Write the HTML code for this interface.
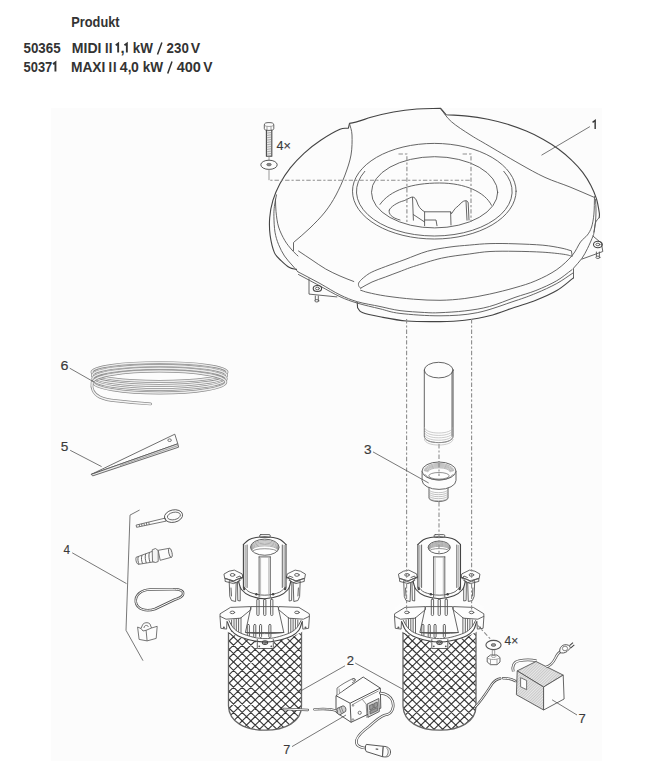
<!DOCTYPE html>
<html><head><meta charset="utf-8">
<style>
html,body{margin:0;padding:0;background:#fff;}
body{width:646px;height:772px;position:relative;overflow:hidden;}
svg{position:absolute;left:0;top:0;}
.tx{font-family:"Liberation Sans",sans-serif;font-size:13.5px;fill:#333;stroke:#333;stroke-width:0.35px;}
.lb{font-family:"Liberation Sans",sans-serif;font-size:11.5px;fill:#3a3a3a;}
.k{fill:none;stroke:#555;stroke-width:0.9;stroke-linecap:round;stroke-linejoin:round;}
.kd{fill:none;stroke:#444;stroke-width:1.1;stroke-linecap:round;stroke-linejoin:round;}
.dd{fill:none;stroke:#8d8d8d;stroke-width:1.1;stroke-dasharray:4.4 2 2.2 2;}
.dda{fill:none;stroke:#8d8d8d;stroke-width:1.1;stroke-dasharray:4.4 2 2.2 2;}
.ld{fill:none;stroke:#555;stroke-width:0.8;}
</style></head><body>
<svg width="646" height="772" viewBox="0 0 646 772">
<rect x="51" y="108" width="551" height="653" fill="#fcfcfc"/>
<text x="71.31" y="26.9" textLength="48.30" lengthAdjust="spacingAndGlyphs" style="font-family:&quot;Liberation Sans&quot;,sans-serif;font-size:13.8px;font-weight:bold;fill:#333;">Produkt</text>
<text x="23.50" y="52.6" textLength="37.11" lengthAdjust="spacingAndGlyphs" style="font-family:&quot;Liberation Sans&quot;,sans-serif;font-size:13.8px;font-weight:bold;fill:#333;">50365</text>
<text x="23.51" y="71.5" textLength="28.77" lengthAdjust="spacingAndGlyphs" style="font-family:&quot;Liberation Sans&quot;,sans-serif;font-size:13.8px;font-weight:bold;fill:#333;">5037</text>
<path d="M55.45 71.50 L55.45 62.40 L53.05 64.14" fill="none" stroke="#333" stroke-width="1.9" stroke-linejoin="miter" stroke-linecap="butt"/>
<path d="M118.15 52.60 L118.15 43.50 L115.75 45.24" fill="none" stroke="#333" stroke-width="1.9" stroke-linejoin="miter" stroke-linecap="butt"/>
<path d="M126.85 52.60 L126.85 43.50 L124.45 45.24" fill="none" stroke="#333" stroke-width="1.9" stroke-linejoin="miter" stroke-linecap="butt"/>
<text x="71.82" y="52.6" textLength="29.68" lengthAdjust="spacingAndGlyphs" style="font-family:&quot;Liberation Sans&quot;,sans-serif;font-size:13.8px;font-weight:bold;fill:#333;">MIDI</text>
<text x="104.90" y="52.6" textLength="3.57" lengthAdjust="spacingAndGlyphs" style="font-family:&quot;Liberation Sans&quot;,sans-serif;font-size:13.8px;font-weight:bold;fill:#333;">I</text>
<text x="108.85" y="52.6" textLength="3.77" lengthAdjust="spacingAndGlyphs" style="font-family:&quot;Liberation Sans&quot;,sans-serif;font-size:13.8px;font-weight:bold;fill:#333;">I</text>
<text x="120.55" y="52.6" textLength="4.17" lengthAdjust="spacingAndGlyphs" style="font-family:&quot;Liberation Sans&quot;,sans-serif;font-size:13.8px;font-weight:bold;fill:#333;">,</text>
<text x="132.76" y="52.6" textLength="20.14" lengthAdjust="spacingAndGlyphs" style="font-family:&quot;Liberation Sans&quot;,sans-serif;font-size:13.8px;font-weight:bold;fill:#333;">kW</text>
<text x="166.60" y="52.6" textLength="22.21" lengthAdjust="spacingAndGlyphs" style="font-family:&quot;Liberation Sans&quot;,sans-serif;font-size:13.8px;font-weight:bold;fill:#333;">230</text>
<text x="190.86" y="52.6" textLength="9.44" lengthAdjust="spacingAndGlyphs" style="font-family:&quot;Liberation Sans&quot;,sans-serif;font-size:13.8px;font-weight:bold;fill:#333;">V</text>
<text x="70.94" y="71.5" textLength="34.43" lengthAdjust="spacingAndGlyphs" style="font-family:&quot;Liberation Sans&quot;,sans-serif;font-size:13.8px;font-weight:bold;fill:#333;">MAXI</text>
<text x="108.60" y="71.5" textLength="3.57" lengthAdjust="spacingAndGlyphs" style="font-family:&quot;Liberation Sans&quot;,sans-serif;font-size:13.8px;font-weight:bold;fill:#333;">I</text>
<text x="113.00" y="71.5" textLength="3.57" lengthAdjust="spacingAndGlyphs" style="font-family:&quot;Liberation Sans&quot;,sans-serif;font-size:13.8px;font-weight:bold;fill:#333;">I</text>
<text x="119.72" y="71.5" textLength="7.87" lengthAdjust="spacingAndGlyphs" style="font-family:&quot;Liberation Sans&quot;,sans-serif;font-size:13.8px;font-weight:bold;fill:#333;">4</text>
<text x="127.75" y="71.5" textLength="3.77" lengthAdjust="spacingAndGlyphs" style="font-family:&quot;Liberation Sans&quot;,sans-serif;font-size:13.8px;font-weight:bold;fill:#333;">,</text>
<text x="131.04" y="71.5" textLength="7.81" lengthAdjust="spacingAndGlyphs" style="font-family:&quot;Liberation Sans&quot;,sans-serif;font-size:13.8px;font-weight:bold;fill:#333;">0</text>
<text x="142.65" y="71.5" textLength="20.35" lengthAdjust="spacingAndGlyphs" style="font-family:&quot;Liberation Sans&quot;,sans-serif;font-size:13.8px;font-weight:bold;fill:#333;">kW</text>
<text x="176.71" y="71.5" textLength="24.25" lengthAdjust="spacingAndGlyphs" style="font-family:&quot;Liberation Sans&quot;,sans-serif;font-size:13.8px;font-weight:bold;fill:#333;">400</text>
<text x="203.26" y="71.5" textLength="9.24" lengthAdjust="spacingAndGlyphs" style="font-family:&quot;Liberation Sans&quot;,sans-serif;font-size:13.8px;font-weight:bold;fill:#333;">V</text>
<path d="M157.5 54.6 L 161.9 42.5 M 167.7 73.5 L 172 61.4" stroke="#333" stroke-width="1.5" fill="none"/>

<defs>
<clipPath id="clipF"><path d="M228.5 620 L 228.5 706 C 229 722, 245 730.2, 265 730.2 C 285 730.2, 301.5 722, 301.5 706 L 301.5 620 Z"/></clipPath>
</defs><!-- LID -->
<path class="kd" d="M296.5 269.4C294.2 268.8 292.1 269.1 289.5 267.6C286.9 266.1 283.6 263.1 281.1 260.6C278.6 258.1 276.1 256.6 274.3 252.4C272.5 248.1 270.9 240.9 270.1 235.2C269.4 229.4 269.2 223.5 269.7 217.7C270.1 211.9 271.2 206.1 272.9 200.4C274.6 194.8 277.0 189.1 279.9 183.7C282.8 178.2 286.3 172.9 290.3 167.8C294.4 162.8 299.0 157.9 304.0 153.3C309.1 148.7 314.7 144.3 320.7 140.3C326.7 136.3 335.4 131.3 340.0 129.3C344.6 127.3 345.6 128.6 348.4 128.2 L349.5 123.4 C356.7 122.4 363.6 119.5 370.9 117.3C378.2 115.2 385.8 113.4 393.5 112.0C401.1 110.6 409.0 109.6 416.9 109.0C424.8 108.4 432.7 108.6 440.7 108.4 L446 114.7 C453.1 115.2 460.2 115.3 467.2 116.1C474.2 116.8 481.1 117.9 487.9 119.3C494.6 120.7 501.3 122.4 507.7 124.3C514.1 126.3 520.4 128.6 526.3 131.1C532.3 133.6 538.0 136.4 543.4 139.4C548.8 142.4 554.0 145.7 558.7 149.2C563.4 152.7 567.9 156.4 571.8 160.3C575.8 164.1 579.5 168.2 582.7 172.4C585.8 176.6 588.6 180.9 590.9 185.4C593.2 189.8 595.1 194.4 596.5 198.9C597.9 203.5 598.8 209.8 599.3 212.9C599.7 216.0 599.2 216.0 599.2 217.6" />
<path class="k" d="M599.2 217.6C598.2 218.8 597.0 219.9 596.3 221.1C595.6 222.3 595.5 222.8 595.1 224.6C594.7 226.4 594.4 230.1 594.0 232.0C593.6 233.9 594.1 233.3 593.0 236.1C591.9 238.9 589.2 245.0 587.4 248.7C585.5 252.4 584.2 255.1 581.9 258.4C579.6 261.6 576.3 264.9 573.5 268.2 L573.5 277.9" />
<path class="kd" d="M573.5 277.9C567.9 282.1 563.1 286.8 556.8 290.5C550.5 294.2 542.9 297.4 535.9 300.2C528.9 303.0 522.7 304.6 515.0 307.2C507.3 309.8 497.9 313.6 489.5 315.8C481.1 318.0 473.1 319.2 464.8 320.2C456.6 321.2 449.6 321.5 440.0 321.6C430.4 321.7 416.9 321.8 406.9 321.0C396.9 320.2 387.4 318.2 380.0 316.8C372.6 315.4 366.0 314.0 362.3 312.5C358.6 311.0 359.2 309.4 357.6 307.9 L357.2 302.3" />
<path class="k" d="M297.9 271.8C305.3 275.7 313.0 279.6 320.0 283.5C327.0 287.4 333.7 291.8 340.0 294.9C346.3 297.9 350.9 299.9 357.6 301.8C364.3 303.7 372.9 305.0 380.0 306.5C387.1 308.0 392.6 309.6 400.0 310.6C407.4 311.6 417.9 312.1 424.6 312.5C431.3 312.9 433.3 313.0 440.0 312.7C446.7 312.4 456.6 311.9 464.8 310.9C473.1 309.9 481.1 308.8 489.5 306.5C497.9 304.2 507.3 300.1 515.0 297.4C522.7 294.7 528.9 293.3 535.9 290.5C542.9 287.7 550.8 284.2 556.8 280.7C562.8 277.2 567.0 273.3 572.1 269.6" />
<path class="k" d="M298.5 274.5C305.7 278.3 313.1 282.3 320.0 286.0C326.9 289.7 333.7 293.8 340.0 296.7C346.3 299.6 350.9 301.2 357.6 303.2C364.3 305.2 372.9 307.1 380.0 308.8C387.1 310.5 390.0 312.2 400.0 313.4C410.0 314.6 427.1 315.9 440.0 315.8C452.9 315.7 464.7 315.2 477.2 312.7C489.7 310.2 505.2 304.1 515.0 300.9C524.8 297.7 528.9 296.2 535.9 293.3C542.9 290.4 550.6 286.9 556.8 283.5C562.9 280.1 567.5 276.6 572.8 273.1" />
<path class="k" d="M276.5 194.9C275.8 198.7 274.8 202.7 274.4 206.3C274.0 209.9 273.8 212.3 273.9 216.6C274.0 220.9 274.2 227.5 275.0 232.2C275.8 236.9 277.0 240.6 278.6 244.6C280.2 248.6 282.3 252.6 284.5 256.0C286.7 259.4 289.8 262.4 292.0 265.0C294.2 267.6 295.9 269.5 297.9 271.8" />
<path class="k" d="M275.5 199.0C275.7 203.2 275.5 206.8 276.0 211.5C276.5 216.2 277.1 222.2 278.6 227.0C280.1 231.8 282.6 236.7 284.8 240.5C287.0 244.3 289.8 247.4 292.0 250.0C294.2 252.6 296.0 254.0 298.0 256.0" />
<path class="k" d="M349.5 123.4C350.3 127.3 351.8 129.7 352.0 135.0C352.2 140.3 352.2 148.3 351.0 155.0C349.8 161.7 347.5 168.3 345.0 175.0C342.5 181.7 339.3 188.8 336.0 195.0C332.7 201.2 329.3 206.5 325.0 212.0C320.7 217.5 315.2 222.9 310.0 228.0C304.8 233.1 299.0 237.7 293.5 242.5 L293.5 250.5" />
<path class="k" d="M298.5 251.0C303.0 254.0 307.5 257.0 312.0 260.0C316.5 263.0 321.0 266.3 325.7 269.0C330.4 271.7 335.3 273.9 340.0 276.0C344.7 278.1 349.2 279.7 353.8 281.5" />
<path class="k" d="M440.5 108.7C444.1 113.0 446.5 117.4 451.4 121.7C456.3 126.0 464.3 131.0 470.0 134.7C475.7 138.4 477.5 139.2 485.7 144.0C493.9 148.8 509.1 157.9 519.0 163.5C528.9 169.1 536.5 173.5 545.0 177.4C553.5 181.3 561.9 183.7 570.0 187.0C578.1 190.3 585.9 193.8 593.9 197.2" />
<path class="k" d="M594.5 196.6C594.3 202.4 594.4 209.0 593.9 214.1C593.4 219.2 592.7 223.5 591.6 227.0C590.5 230.5 589.2 232.5 587.4 235.0C585.5 237.5 583.0 238.6 580.5 242.0C578.0 245.4 576.1 251.0 572.1 255.6C568.1 260.2 562.8 265.4 556.8 269.6C550.8 273.8 542.9 277.7 535.9 280.7C528.9 283.7 522.7 285.5 515.0 287.7C507.3 289.9 497.9 292.3 489.5 294.1C481.1 295.9 473.1 297.5 464.8 298.5C456.6 299.5 448.5 300.2 440.0 300.3C431.5 300.4 422.7 299.9 413.6 299.2C404.6 298.5 393.3 297.1 385.7 296.0C378.1 294.9 372.2 293.5 368.0 292.5C363.8 291.5 363.1 291.0 360.6 290.2" />
<path class="k" d="M595.5 199.5C595.7 203.0 596.0 206.2 596.0 210.0C596.0 213.8 595.8 218.3 595.5 222.0C595.2 225.7 594.5 228.7 594.0 232.0" />
<path class="k" d="M360.6 288.2C359.9 287.3 358.8 286.6 358.6 285.5C358.4 284.4 358.2 283.4 359.3 281.9C360.4 280.4 362.9 278.1 365.0 276.5C367.1 274.9 368.4 273.8 371.8 272.1C375.2 270.4 380.2 268.6 385.7 266.5C391.2 264.4 398.0 262.1 405.0 259.5C412.0 256.9 420.0 253.3 427.5 251.2C435.0 249.1 443.0 248.0 450.0 247.0C457.0 246.0 462.6 245.7 469.3 245.1C476.0 244.5 482.4 243.8 490.0 243.6C497.6 243.4 506.2 243.5 515.0 243.8C523.8 244.1 535.2 244.5 542.9 245.2C550.6 245.9 556.2 247.1 561.0 248.0C565.8 248.9 567.9 249.9 571.4 250.8 L572.1 255.6" />
<path class="k" d="M360.6 288.2C364.4 286.1 367.8 283.9 372.0 282.0C376.2 280.1 381.0 278.6 385.7 276.9C390.4 275.1 395.4 273.2 400.0 271.5C404.6 269.8 406.7 268.7 413.6 266.5C420.5 264.3 432.2 260.3 441.5 258.2C450.8 256.1 461.2 255.1 469.3 254.0C477.4 252.9 482.4 251.9 490.0 251.5C497.6 251.1 506.2 251.2 515.0 251.3C523.8 251.4 534.8 251.7 542.9 252.2C551.0 252.7 558.9 253.6 563.8 254.3C568.7 255.0 569.3 255.6 572.1 256.3" />
<ellipse class="k" cx="434.3" cy="191.2" rx="81.8" ry="47.8"/>
<path class="k" d="M 364.8 171.3 A 78 44.5 0 1 0 503.8 171.3"/>
<ellipse class="k" cx="434.6" cy="192.3" rx="63.1" ry="35.6"/>
<path class="k" d="M380 204.4 C 390 190, 412 183, 439.4 183 C 465 183, 485 192, 491.5 205.3"/>
<path class="k" d="M389.3 210 C 390 207, 398 202, 404.1 200.7 C 408 199, 411 197, 412.5 197 C 414.5 197, 416 199, 417 202 C 418 206, 421 210, 424.6 211.8 L 450.6 211.8 L 451.5 213.7 C 454 210, 456 207, 458 206.2 C 461 203, 463 200.7, 465.5 200.7 C 467 200.7, 468 201.5, 468.2 203 L 469 220"/>
<path class="k" d="M412.5 197.5 L 413.4 220.2 M 413.4 214.6 L 424.6 222 M 424.6 211.8 L 424.6 225.7 M 450.6 212 L 451 225 M 424.6 220 L 436 220 L 437 225.7 M 466 201 L 467 220.2"/>
<path class="k" d="M389.3 210 C 388 214, 392 218, 400 220"/>
<path class="k" d="M309 278.8 L 309 294.1 L 336.9 296.9"/>
<ellipse class="kd" cx="317.4" cy="288.5" rx="4.2" ry="3"/><ellipse class="k" cx="317.4" cy="288.5" rx="2" ry="1.3"/>
<path class="k" d="M315.3 296 L 315.3 300 M 318.3 296 L 318.3 300"/><ellipse class="k" cx="316.8" cy="300.8" rx="2" ry="1.2"/>
<path class="k" d="M593 236.1 L 601.4 243.1 L 602.8 251.5 L 581.9 259.1"/>
<ellipse class="kd" cx="597.9" cy="244.5" rx="4.4" ry="3.2"/><ellipse class="k" cx="597.9" cy="244.5" rx="2" ry="1.3"/>
<path class="k" d="M596.4 252 L 596.4 256 M 599.4 252 L 599.4 256"/><ellipse class="k" cx="597.9" cy="257.3" rx="2" ry="1.2"/>
<!--LABEL1-->
<path class="ld" d="M589.9 126.6 L 541.5 155.2"/>
<path d="M264.3 125 C 264.3 123, 266 122.6, 269 122.6 C 272 122.6, 273.8 123, 273.8 125 L 273.8 128.5 C 273.8 130, 272 130.4, 269 130.4 C 266 130.4, 264.3 130, 264.3 128.5 Z" fill="#fdfdfd" stroke="#555" stroke-width="0.9"/>
<path d="M264.5 125.5 C 266 126.8, 272 126.8, 273.6 125.5 M 267 126.5 L 267 130 M 271 126.5 L 271 130" fill="none" stroke="#666" stroke-width="0.6"/>
<path class="kd" d="M266.4 130.4 L 266.4 156.3 M 271.8 130.4 L 271.8 156.3 M 266.4 156.3 L 271.8 156.3"/>
<path d="M266.6 132.00 L271.6 132.60 M266.6 133.75 L271.6 134.35 M266.6 135.50 L271.6 136.10 M266.6 137.25 L271.6 137.85 M266.6 139.00 L271.6 139.60 M266.6 140.75 L271.6 141.35 M266.6 142.50 L271.6 143.10 M266.6 144.25 L271.6 144.85 M266.6 146.00 L271.6 146.60 M266.6 147.75 L271.6 148.35 M266.6 149.50 L271.6 150.10 M266.6 151.25 L271.6 151.85 M266.6 153.00 L271.6 153.60 M266.6 154.75 L271.6 155.35" stroke="#777" stroke-width="0.6"/>
<path d="M269 156.3 L 269 164" stroke="#888" stroke-width="0.8"/>
<ellipse cx="269" cy="164.8" rx="8.2" ry="4.6" fill="#fdfdfd" stroke="#555" stroke-width="1"/>
<ellipse cx="269" cy="164.6" rx="2.3" ry="1.3" fill="#888" stroke="#555" stroke-width="0.6"/>
<path d="M269 169.4 L 269 180.2" stroke="#999" stroke-width="1"/>
<!--LABEL4X-->
<path class="dda" style="stroke-dashoffset:5.5" d="M269.4 180.2 L 471 180.2"/>
<path class="dda" d="M398.5 154 L 406.9 154 L 406.9 222"/>
<path class="dda" d="M462.6 154 L 471 154 L 471 222"/>
<g id="pumpL">
<path d="M228.5 622 L 228.5 706 C 229 722, 245 730.2, 265 730.2 C 285 730.2, 301.5 722, 301.5 706 L 301.5 622 Z" fill="#fff" stroke="none"/>
<g clip-path="url(#clipF)"><path d="M9.59 613.00L138.46 738.00M18.26 613.00L147.13 738.00M26.93 613.00L155.80 738.00M35.60 613.00L164.47 738.00M44.27 613.00L173.14 738.00M52.94 613.00L181.81 738.00M61.61 613.00L190.48 738.00M70.28 613.00L199.15 738.00M78.95 613.00L207.82 738.00M87.62 613.00L216.49 738.00M96.29 613.00L225.16 738.00M104.96 613.00L233.83 738.00M113.63 613.00L242.50 738.00M122.30 613.00L251.17 738.00M130.97 613.00L259.84 738.00M139.64 613.00L268.51 738.00M148.31 613.00L277.18 738.00M156.98 613.00L285.85 738.00M165.65 613.00L294.52 738.00M174.32 613.00L303.19 738.00M182.99 613.00L311.86 738.00M191.66 613.00L320.53 738.00M200.33 613.00L329.20 738.00M209.00 613.00L337.87 738.00M217.67 613.00L346.54 738.00M226.34 613.00L355.21 738.00M235.01 613.00L363.88 738.00M243.68 613.00L372.55 738.00M252.35 613.00L381.22 738.00M261.02 613.00L389.89 738.00M269.69 613.00L398.56 738.00M278.36 613.00L407.23 738.00M287.03 613.00L415.90 738.00M295.70 613.00L424.57 738.00M304.37 613.00L433.24 738.00M313.04 613.00L441.91 738.00M321.71 613.00L450.58 738.00M330.38 613.00L459.25 738.00M339.05 613.00L467.92 738.00M347.72 613.00L476.59 738.00M356.39 613.00L485.26 738.00M365.06 613.00L493.93 738.00M373.73 613.00L502.60 738.00M382.40 613.00L511.27 738.00M391.07 613.00L519.94 738.00M399.74 613.00L528.61 738.00M136.61 613.00L7.74 738.00M145.28 613.00L16.41 738.00M153.95 613.00L25.08 738.00M162.62 613.00L33.75 738.00M171.29 613.00L42.42 738.00M179.96 613.00L51.09 738.00M188.63 613.00L59.76 738.00M197.30 613.00L68.43 738.00M205.97 613.00L77.10 738.00M214.64 613.00L85.77 738.00M223.31 613.00L94.44 738.00M231.98 613.00L103.11 738.00M240.65 613.00L111.78 738.00M249.32 613.00L120.45 738.00M257.99 613.00L129.12 738.00M266.66 613.00L137.79 738.00M275.33 613.00L146.46 738.00M284.00 613.00L155.13 738.00M292.67 613.00L163.80 738.00M301.34 613.00L172.47 738.00M310.01 613.00L181.14 738.00M318.68 613.00L189.81 738.00M327.35 613.00L198.48 738.00M336.02 613.00L207.15 738.00M344.69 613.00L215.82 738.00M353.36 613.00L224.49 738.00M362.03 613.00L233.16 738.00M370.70 613.00L241.83 738.00M379.37 613.00L250.50 738.00M388.04 613.00L259.17 738.00M396.71 613.00L267.84 738.00M405.38 613.00L276.51 738.00M414.05 613.00L285.18 738.00M422.72 613.00L293.85 738.00M431.39 613.00L302.52 738.00M440.06 613.00L311.19 738.00M448.73 613.00L319.86 738.00M457.40 613.00L328.53 738.00M466.07 613.00L337.20 738.00M474.74 613.00L345.87 738.00M483.41 613.00L354.54 738.00M492.08 613.00L363.21 738.00M500.75 613.00L371.88 738.00M509.42 613.00L380.55 738.00M518.09 613.00L389.22 738.00M526.76 613.00L397.89 738.00" stroke="#3a3a3a" stroke-width="1.15" fill="none"/></g>
<path d="M228.5 626 L 228.5 706 C 229 722, 245 730.2, 265 730.2 C 285 730.2, 301.5 722, 301.5 706 L 301.5 626" fill="none" stroke="#666" stroke-width="1.3"/>
<path stroke="none" d="M243.5 544.0 L248.9 539.7 L264.7 536.5 L280.5 539.7 L286.0 544.0 L286.0 570.0 L296.0 569.5 L305.2 575.0 L305.0 581.0 L299.0 586.0 L297.0 598.0 L309.0 606.0 L310.0 612.6 L309.5 629.0 L304.0 630.0 L302.0 632.0 L290.0 638.0 L274.0 641.0 L274.0 648.0 L256.0 648.0 L256.0 641.0 L240.0 638.0 L228.0 632.0 L225.0 630.0 L220.0 629.0 L219.5 613.0 L221.0 607.0 L232.0 598.0 L230.5 586.0 L224.4 581.0 L224.4 575.0 L233.8 569.5 L243.5 570.0 Z" fill="#fdfdfd"/>
<path class="k" d="M220.4 613.6 L230.5 607.4 L250.6 606.6 L251.0 609.5 L240.5 618.2 L226.0 619.2 L220.4 616.5 Z" fill="#fdfdfd"/>
<path class="k" d="M309.0 613.6 L298.9 607.4 L278.8 606.6 L278.4 609.5 L288.9 618.2 L303.4 619.2 L309.0 616.5 Z" fill="#fdfdfd"/>
<ellipse class="k" cx="232.4" cy="612.4" rx="2.3" ry="1.3"/><ellipse class="k" cx="297" cy="612.4" rx="2.3" ry="1.3"/>
<path class="k" d="M220.0 616.5 L220.8 628.3 L226.6 629.1 L227.0 621.3" fill="#fdfdfd"/>
<path class="k" d="M309.4 616.5 L308.6 628.3 L302.8 629.1 L302.4 621.3" fill="#fdfdfd"/>
<circle cx="223.9" cy="627.6" r="1" fill="#555"/><circle cx="305.5" cy="627.6" r="1" fill="#555"/>
<path class="k" d="M231.6 620 L231.6 631.4 M234 619.5 L234 632 M236.3 619 L236.3 632.6 M238.6 618.5 L238.6 633.2 M241 617.5 L241 633.8"/>
<path class="k" d="M231.6 620 L231.6 631.4 M234 619.5 L234 632 M236.3 619 L236.3 632.6 M238.6 618.5 L238.6 633.2 M241 617.5 L241 633.8" transform="translate(529.4,0) scale(-1,1)"/>
<path class="k" d="M251.4 606.6 L278.0 606.6 L283.8 632.5 L245.8 632.5 Z" fill="#fdfdfd"/>
<rect x="256.8" y="599" width="2.3" height="16.5" rx="1" class="k" fill="#eee"/>
<rect x="263.6" y="599" width="2.3" height="16.5" rx="1" class="k" fill="#eee"/>
<rect x="270.6" y="599" width="2.3" height="16.5" rx="1" class="k" fill="#eee"/>
<rect x="247.3" y="624.5" width="2.1" height="13" rx="1" class="k" fill="#eee"/>
<rect x="253.7" y="624.5" width="2.1" height="13" rx="1" class="k" fill="#eee"/>
<rect x="259.5" y="624.5" width="2.1" height="13" rx="1" class="k" fill="#eee"/>
<rect x="268.8" y="624.5" width="2.1" height="13" rx="1" class="k" fill="#eee"/>
<path class="k" d="M245.8 632.5 C 252 634, 277 634, 283.8 632.5"/>
<path class="k" d="M229.2 581.0 L229.8 596.5 L231.5 600.5 L235.6 601.5 L236.2 583.0 Z" fill="#fdfdfd"/>
<path class="k" d="M300.2 581.0 L299.6 596.5 L297.9 600.5 L293.8 601.5 L293.2 583.0 Z" fill="#fdfdfd"/>
<path class="k" d="M237.5 582.0 L237.8 600.5 L240.2 601.0 L240.2 581.0 Z" fill="#fdfdfd"/>
<path class="k" d="M291.9 582.0 L291.6 600.5 L289.2 601.0 L289.2 581.0 Z" fill="#fdfdfd"/>
<path class="k" d="M225.1 578.6 L225.1 581.4 L233.6 583.6 L242.9 579.6 L242.9 577.0 L233.6 580.9 Z" fill="#fdfdfd"/>
<path class="k" d="M304.3 578.6 L304.3 581.4 L295.8 583.6 L286.5 579.6 L286.5 577.0 L295.8 580.9 Z" fill="#fdfdfd"/>
<path class="k" d="M224.3 573.9 L229.0 571.2 L234.3 570.1 L242.1 573.9 L242.9 577.0 L233.6 580.9 L225.1 578.6 Z" fill="#fdfdfd"/>
<path class="k" d="M305.1 573.9 L300.4 571.2 L295.1 570.1 L287.3 573.9 L286.5 577.0 L295.8 580.9 L304.3 578.6 Z" fill="#fdfdfd"/>
<ellipse class="k" cx="232.5" cy="574.9" rx="2.3" ry="1.4"/><ellipse class="k" cx="296.9" cy="574.9" rx="2.3" ry="1.4"/>
<path class="k" d="M236.5 577.5 L 240 576 L 241.5 578.5 M 292.9 577.5 L 289.4 576 L 287.9 578.5 M 231 588 L 231.5 596 M 298.4 588 L 297.9 596"/>
<path d="M238.7 582.0C239.6 584.5 239.6 587.2 241.5 589.5C243.4 591.8 246.1 594.3 250.0 595.8C253.9 597.3 259.8 598.7 264.7 598.7C269.6 598.7 275.5 597.3 279.4 595.8C283.3 594.3 286.1 591.8 288.0 589.5C289.9 587.2 289.8 584.5 290.7 582.0 L 286 578 L 243.4 578 Z" fill="#fdfdfd" stroke="none"/>
<path class="kd" d="M238.7 582.0C239.6 584.5 239.6 587.2 241.5 589.5C243.4 591.8 246.1 594.3 250.0 595.8C253.9 597.3 259.8 598.7 264.7 598.7C269.6 598.7 275.5 597.3 279.4 595.8C283.3 594.3 286.1 591.8 288.0 589.5C289.9 587.2 289.8 584.5 290.7 582.0" />
<path class="k" d="M243.8 586.5C245.9 588.4 246.5 590.8 250.0 592.3C253.5 593.8 259.8 595.2 264.7 595.2C269.6 595.2 275.9 593.8 279.4 592.3C282.9 590.8 283.5 588.4 285.6 586.5" />
<path class="k" d="M238.7 582.0C239.1 581.0 239.2 579.9 240.0 579.0C240.8 578.1 242.3 577.3 243.4 576.5 M290.7 582.0C290.3 581.0 290.2 579.9 289.4 579.0C288.6 578.1 287.1 577.3 286.0 576.5" />
<circle cx="244.3" cy="589" r="1.2" fill="#444"/>
<circle cx="256.4" cy="594.2" r="1.2" fill="#444"/>
<circle cx="273.1" cy="594.2" r="1.2" fill="#444"/>
<circle cx="285.1" cy="589" r="1.2" fill="#444"/>
<path d="M243.4 546 L 243.4 587 C 250 592, 279 592, 286 587 L 286 546 Z" fill="#fdfdfd" stroke="none"/>
<path class="kd" d="M243.4 544.5 L 243.4 588 M 286 544.5 L 286 588"/>
<path d="M245.2 545 L 245.2 587 M 284.2 545 L 284.2 587" stroke="#bbb" stroke-width="1.6" fill="none"/>
<path class="k" d="M247.1 545 L 247.1 587.5 M 282.3 545 L 282.3 587.5"/>
<path class="kd" d="M243.4 544.5C245.2 542.9 246.8 540.9 248.9 539.7C251.0 538.5 253.4 538.0 256.0 537.5C258.6 537.0 261.9 536.7 264.7 536.7C267.5 536.7 270.4 537.0 273.0 537.5C275.6 538.0 278.3 538.5 280.5 539.7C282.7 540.9 284.2 542.9 286.0 544.5" />
<rect x="259.6" y="534.6" width="10.7" height="2.9" rx="1.2" class="k" fill="#fdfdfd"/>
<ellipse cx="264.8" cy="547.2" rx="14.3" ry="8.05" fill="#fff" stroke="#555" stroke-width="0.9"/>
<path fill="none" stroke="#6a6a6a" stroke-width="0.55" d="M250.79 547.80 A 14.01 7.31 0 0 1 278.81 547.80"/>
<path fill="none" stroke="#6a6a6a" stroke-width="0.55" d="M251.07 548.41 A 13.73 6.57 0 0 1 278.53 548.41"/>
<path fill="none" stroke="#6a6a6a" stroke-width="0.55" d="M251.36 549.01 A 13.44 5.84 0 0 1 278.24 549.01"/>
<path fill="none" stroke="#6a6a6a" stroke-width="0.55" d="M251.64 549.62 A 13.16 5.10 0 0 1 277.96 549.62"/>
<path fill="none" stroke="#6a6a6a" stroke-width="0.55" d="M251.93 550.22 A 12.87 4.36 0 0 1 277.67 550.22"/>
<path fill="none" stroke="#666" stroke-width="0.7" d="M252.50 551.63 A 12.30 2.90 0 0 1 277.10 551.63"/>
<path class="k" d="M259.1 556.9 L 259.1 597 M 270.3 556.9 L 270.3 597 M 259.1 556.9 L 270.3 556.9"/>
<path d="M260.6 557.5 L 260.6 596.5 M 268.8 557.5 L 268.8 596.5" stroke="#aaa" stroke-width="0.8" fill="none"/>
<circle cx="244.3" cy="587.8" r="1" fill="#555"/><circle cx="285.1" cy="587.8" r="1" fill="#555"/>
<path d="M227.4 622.0C228.6 624.7 229.2 627.7 231.0 630.0C232.8 632.3 234.4 634.2 238.2 636.0C242.0 637.8 249.2 639.8 253.7 640.8C258.2 641.8 261.2 642.0 265.0 642.0C268.8 642.0 271.8 641.8 276.3 640.8C280.8 639.8 288.0 637.8 291.8 636.0C295.6 634.2 297.3 632.3 299.0 630.0C300.7 627.7 301.0 624.7 302.0 622.0 L301.0 620.5C299.7 622.8 298.8 625.5 297.0 627.5C295.2 629.5 293.4 631.2 290.0 632.8C286.6 634.4 280.5 636.3 276.3 637.3C272.1 638.3 268.8 638.6 265.0 638.6C261.2 638.6 257.9 638.3 253.7 637.3C249.5 636.3 243.4 634.4 240.0 632.8C236.6 631.2 234.8 629.5 233.0 627.5C231.2 625.5 230.3 622.8 229.0 620.5 Z" fill="#fdfdfd" stroke="none"/>
<path class="kd" d="M227.4 622.0C228.6 624.7 229.2 627.7 231.0 630.0C232.8 632.3 234.4 634.2 238.2 636.0C242.0 637.8 249.2 639.8 253.7 640.8C258.2 641.8 261.2 642.0 265.0 642.0C268.8 642.0 271.8 641.8 276.3 640.8C280.8 639.8 288.0 637.8 291.8 636.0C295.6 634.2 297.3 632.3 299.0 630.0C300.7 627.7 301.0 624.7 302.0 622.0" />
<path class="k" d="M229.0 620.5C230.3 622.8 231.2 625.5 233.0 627.5C234.8 629.5 236.6 631.2 240.0 632.8C243.4 634.4 249.5 636.3 253.7 637.3C257.9 638.3 261.2 638.6 265.0 638.6C268.8 638.6 272.1 638.3 276.3 637.3C280.5 636.3 286.6 634.4 290.0 632.8C293.4 631.2 295.2 629.5 297.0 627.5C298.8 625.5 299.7 622.8 301.0 620.5" />
<path class="k" d="M257.3 639.5 L257.3 648.5 L273.3 648.5 L273.3 639.5" fill="#fdfdfd"/>
<ellipse class="kd" cx="265" cy="642.6" rx="2.7" ry="1.9"/><ellipse class="k" cx="265" cy="642.6" rx="1.2" ry="0.8"/>
<circle cx="259.3" cy="646.3" r="0.9" fill="#555"/><circle cx="271.3" cy="646.3" r="0.9" fill="#555"/>
</g>
<g id="pumpR" transform="translate(174.5,0)">
<path d="M228.5 622 L 228.5 706 C 229 722, 245 730.2, 265 730.2 C 285 730.2, 301.5 722, 301.5 706 L 301.5 622 Z" fill="#fff" stroke="none"/>
<g clip-path="url(#clipF)"><path d="M9.59 613.00L138.46 738.00M18.26 613.00L147.13 738.00M26.93 613.00L155.80 738.00M35.60 613.00L164.47 738.00M44.27 613.00L173.14 738.00M52.94 613.00L181.81 738.00M61.61 613.00L190.48 738.00M70.28 613.00L199.15 738.00M78.95 613.00L207.82 738.00M87.62 613.00L216.49 738.00M96.29 613.00L225.16 738.00M104.96 613.00L233.83 738.00M113.63 613.00L242.50 738.00M122.30 613.00L251.17 738.00M130.97 613.00L259.84 738.00M139.64 613.00L268.51 738.00M148.31 613.00L277.18 738.00M156.98 613.00L285.85 738.00M165.65 613.00L294.52 738.00M174.32 613.00L303.19 738.00M182.99 613.00L311.86 738.00M191.66 613.00L320.53 738.00M200.33 613.00L329.20 738.00M209.00 613.00L337.87 738.00M217.67 613.00L346.54 738.00M226.34 613.00L355.21 738.00M235.01 613.00L363.88 738.00M243.68 613.00L372.55 738.00M252.35 613.00L381.22 738.00M261.02 613.00L389.89 738.00M269.69 613.00L398.56 738.00M278.36 613.00L407.23 738.00M287.03 613.00L415.90 738.00M295.70 613.00L424.57 738.00M304.37 613.00L433.24 738.00M313.04 613.00L441.91 738.00M321.71 613.00L450.58 738.00M330.38 613.00L459.25 738.00M339.05 613.00L467.92 738.00M347.72 613.00L476.59 738.00M356.39 613.00L485.26 738.00M365.06 613.00L493.93 738.00M373.73 613.00L502.60 738.00M382.40 613.00L511.27 738.00M391.07 613.00L519.94 738.00M399.74 613.00L528.61 738.00M136.61 613.00L7.74 738.00M145.28 613.00L16.41 738.00M153.95 613.00L25.08 738.00M162.62 613.00L33.75 738.00M171.29 613.00L42.42 738.00M179.96 613.00L51.09 738.00M188.63 613.00L59.76 738.00M197.30 613.00L68.43 738.00M205.97 613.00L77.10 738.00M214.64 613.00L85.77 738.00M223.31 613.00L94.44 738.00M231.98 613.00L103.11 738.00M240.65 613.00L111.78 738.00M249.32 613.00L120.45 738.00M257.99 613.00L129.12 738.00M266.66 613.00L137.79 738.00M275.33 613.00L146.46 738.00M284.00 613.00L155.13 738.00M292.67 613.00L163.80 738.00M301.34 613.00L172.47 738.00M310.01 613.00L181.14 738.00M318.68 613.00L189.81 738.00M327.35 613.00L198.48 738.00M336.02 613.00L207.15 738.00M344.69 613.00L215.82 738.00M353.36 613.00L224.49 738.00M362.03 613.00L233.16 738.00M370.70 613.00L241.83 738.00M379.37 613.00L250.50 738.00M388.04 613.00L259.17 738.00M396.71 613.00L267.84 738.00M405.38 613.00L276.51 738.00M414.05 613.00L285.18 738.00M422.72 613.00L293.85 738.00M431.39 613.00L302.52 738.00M440.06 613.00L311.19 738.00M448.73 613.00L319.86 738.00M457.40 613.00L328.53 738.00M466.07 613.00L337.20 738.00M474.74 613.00L345.87 738.00M483.41 613.00L354.54 738.00M492.08 613.00L363.21 738.00M500.75 613.00L371.88 738.00M509.42 613.00L380.55 738.00M518.09 613.00L389.22 738.00M526.76 613.00L397.89 738.00" stroke="#3a3a3a" stroke-width="1.15" fill="none"/></g>
<path d="M228.5 626 L 228.5 706 C 229 722, 245 730.2, 265 730.2 C 285 730.2, 301.5 722, 301.5 706 L 301.5 626" fill="none" stroke="#666" stroke-width="1.3"/>
<path stroke="none" d="M243.5 544.0 L248.9 539.7 L264.7 536.5 L280.5 539.7 L286.0 544.0 L286.0 570.0 L296.0 569.5 L305.2 575.0 L305.0 581.0 L299.0 586.0 L297.0 598.0 L309.0 606.0 L310.0 612.6 L309.5 629.0 L304.0 630.0 L302.0 632.0 L290.0 638.0 L274.0 641.0 L274.0 648.0 L256.0 648.0 L256.0 641.0 L240.0 638.0 L228.0 632.0 L225.0 630.0 L220.0 629.0 L219.5 613.0 L221.0 607.0 L232.0 598.0 L230.5 586.0 L224.4 581.0 L224.4 575.0 L233.8 569.5 L243.5 570.0 Z" fill="#fdfdfd"/>
<path class="k" d="M220.4 613.6 L230.5 607.4 L250.6 606.6 L251.0 609.5 L240.5 618.2 L226.0 619.2 L220.4 616.5 Z" fill="#fdfdfd"/>
<path class="k" d="M309.0 613.6 L298.9 607.4 L278.8 606.6 L278.4 609.5 L288.9 618.2 L303.4 619.2 L309.0 616.5 Z" fill="#fdfdfd"/>
<ellipse class="k" cx="232.4" cy="612.4" rx="2.3" ry="1.3"/><ellipse class="k" cx="297" cy="612.4" rx="2.3" ry="1.3"/>
<path class="k" d="M220.0 616.5 L220.8 628.3 L226.6 629.1 L227.0 621.3" fill="#fdfdfd"/>
<path class="k" d="M309.4 616.5 L308.6 628.3 L302.8 629.1 L302.4 621.3" fill="#fdfdfd"/>
<circle cx="223.9" cy="627.6" r="1" fill="#555"/><circle cx="305.5" cy="627.6" r="1" fill="#555"/>
<path class="k" d="M231.6 620 L231.6 631.4 M234 619.5 L234 632 M236.3 619 L236.3 632.6 M238.6 618.5 L238.6 633.2 M241 617.5 L241 633.8"/>
<path class="k" d="M231.6 620 L231.6 631.4 M234 619.5 L234 632 M236.3 619 L236.3 632.6 M238.6 618.5 L238.6 633.2 M241 617.5 L241 633.8" transform="translate(529.4,0) scale(-1,1)"/>
<path class="k" d="M251.4 606.6 L278.0 606.6 L283.8 632.5 L245.8 632.5 Z" fill="#fdfdfd"/>
<rect x="256.8" y="599" width="2.3" height="16.5" rx="1" class="k" fill="#eee"/>
<rect x="263.6" y="599" width="2.3" height="16.5" rx="1" class="k" fill="#eee"/>
<rect x="270.6" y="599" width="2.3" height="16.5" rx="1" class="k" fill="#eee"/>
<rect x="247.3" y="624.5" width="2.1" height="13" rx="1" class="k" fill="#eee"/>
<rect x="253.7" y="624.5" width="2.1" height="13" rx="1" class="k" fill="#eee"/>
<rect x="259.5" y="624.5" width="2.1" height="13" rx="1" class="k" fill="#eee"/>
<rect x="268.8" y="624.5" width="2.1" height="13" rx="1" class="k" fill="#eee"/>
<path class="k" d="M245.8 632.5 C 252 634, 277 634, 283.8 632.5"/>
<path class="k" d="M229.2 581.0 L229.8 596.5 L231.5 600.5 L235.6 601.5 L236.2 583.0 Z" fill="#fdfdfd"/>
<path class="k" d="M300.2 581.0 L299.6 596.5 L297.9 600.5 L293.8 601.5 L293.2 583.0 Z" fill="#fdfdfd"/>
<path class="k" d="M237.5 582.0 L237.8 600.5 L240.2 601.0 L240.2 581.0 Z" fill="#fdfdfd"/>
<path class="k" d="M291.9 582.0 L291.6 600.5 L289.2 601.0 L289.2 581.0 Z" fill="#fdfdfd"/>
<path class="k" d="M225.1 578.6 L225.1 581.4 L233.6 583.6 L242.9 579.6 L242.9 577.0 L233.6 580.9 Z" fill="#fdfdfd"/>
<path class="k" d="M304.3 578.6 L304.3 581.4 L295.8 583.6 L286.5 579.6 L286.5 577.0 L295.8 580.9 Z" fill="#fdfdfd"/>
<path class="k" d="M224.3 573.9 L229.0 571.2 L234.3 570.1 L242.1 573.9 L242.9 577.0 L233.6 580.9 L225.1 578.6 Z" fill="#fdfdfd"/>
<path class="k" d="M305.1 573.9 L300.4 571.2 L295.1 570.1 L287.3 573.9 L286.5 577.0 L295.8 580.9 L304.3 578.6 Z" fill="#fdfdfd"/>
<ellipse class="k" cx="232.5" cy="574.9" rx="2.3" ry="1.4"/><ellipse class="k" cx="296.9" cy="574.9" rx="2.3" ry="1.4"/>
<path class="k" d="M236.5 577.5 L 240 576 L 241.5 578.5 M 292.9 577.5 L 289.4 576 L 287.9 578.5 M 231 588 L 231.5 596 M 298.4 588 L 297.9 596"/>
<path d="M238.7 582.0C239.6 584.5 239.6 587.2 241.5 589.5C243.4 591.8 246.1 594.3 250.0 595.8C253.9 597.3 259.8 598.7 264.7 598.7C269.6 598.7 275.5 597.3 279.4 595.8C283.3 594.3 286.1 591.8 288.0 589.5C289.9 587.2 289.8 584.5 290.7 582.0 L 286 578 L 243.4 578 Z" fill="#fdfdfd" stroke="none"/>
<path class="kd" d="M238.7 582.0C239.6 584.5 239.6 587.2 241.5 589.5C243.4 591.8 246.1 594.3 250.0 595.8C253.9 597.3 259.8 598.7 264.7 598.7C269.6 598.7 275.5 597.3 279.4 595.8C283.3 594.3 286.1 591.8 288.0 589.5C289.9 587.2 289.8 584.5 290.7 582.0" />
<path class="k" d="M243.8 586.5C245.9 588.4 246.5 590.8 250.0 592.3C253.5 593.8 259.8 595.2 264.7 595.2C269.6 595.2 275.9 593.8 279.4 592.3C282.9 590.8 283.5 588.4 285.6 586.5" />
<path class="k" d="M238.7 582.0C239.1 581.0 239.2 579.9 240.0 579.0C240.8 578.1 242.3 577.3 243.4 576.5 M290.7 582.0C290.3 581.0 290.2 579.9 289.4 579.0C288.6 578.1 287.1 577.3 286.0 576.5" />
<circle cx="244.3" cy="589" r="1.2" fill="#444"/>
<circle cx="256.4" cy="594.2" r="1.2" fill="#444"/>
<circle cx="273.1" cy="594.2" r="1.2" fill="#444"/>
<circle cx="285.1" cy="589" r="1.2" fill="#444"/>
<path d="M243.4 546 L 243.4 587 C 250 592, 279 592, 286 587 L 286 546 Z" fill="#fdfdfd" stroke="none"/>
<path class="kd" d="M243.4 544.5 L 243.4 588 M 286 544.5 L 286 588"/>
<path d="M245.2 545 L 245.2 587 M 284.2 545 L 284.2 587" stroke="#bbb" stroke-width="1.6" fill="none"/>
<path class="k" d="M247.1 545 L 247.1 587.5 M 282.3 545 L 282.3 587.5"/>
<path class="kd" d="M243.4 544.5C245.2 542.9 246.8 540.9 248.9 539.7C251.0 538.5 253.4 538.0 256.0 537.5C258.6 537.0 261.9 536.7 264.7 536.7C267.5 536.7 270.4 537.0 273.0 537.5C275.6 538.0 278.3 538.5 280.5 539.7C282.7 540.9 284.2 542.9 286.0 544.5" />
<rect x="259.6" y="534.6" width="10.7" height="2.9" rx="1.2" class="k" fill="#fdfdfd"/>
<ellipse cx="264.7" cy="547.4" rx="11.1" ry="6.35" fill="#fff" stroke="#555" stroke-width="0.9"/>
<path fill="none" stroke="#6a6a6a" stroke-width="0.55" d="M253.82 547.88 A 10.88 5.77 0 0 1 275.58 547.88"/>
<path fill="none" stroke="#6a6a6a" stroke-width="0.55" d="M254.04 548.35 A 10.66 5.19 0 0 1 275.36 548.35"/>
<path fill="none" stroke="#6a6a6a" stroke-width="0.55" d="M254.27 548.83 A 10.43 4.60 0 0 1 275.13 548.83"/>
<path fill="none" stroke="#6a6a6a" stroke-width="0.55" d="M254.49 549.30 A 10.21 4.02 0 0 1 274.91 549.30"/>
<path fill="none" stroke="#6a6a6a" stroke-width="0.55" d="M254.71 549.78 A 9.99 3.44 0 0 1 274.69 549.78"/>
<path fill="none" stroke="#666" stroke-width="0.7" d="M255.15 550.89 A 9.55 2.29 0 0 1 274.25 550.89"/>
<path class="k" d="M259.1 556.9 L 259.1 597 M 270.3 556.9 L 270.3 597 M 259.1 556.9 L 270.3 556.9"/>
<path d="M260.6 557.5 L 260.6 596.5 M 268.8 557.5 L 268.8 596.5" stroke="#aaa" stroke-width="0.8" fill="none"/>
<circle cx="244.3" cy="587.8" r="1" fill="#555"/><circle cx="285.1" cy="587.8" r="1" fill="#555"/>
<path d="M227.4 622.0C228.6 624.7 229.2 627.7 231.0 630.0C232.8 632.3 234.4 634.2 238.2 636.0C242.0 637.8 249.2 639.8 253.7 640.8C258.2 641.8 261.2 642.0 265.0 642.0C268.8 642.0 271.8 641.8 276.3 640.8C280.8 639.8 288.0 637.8 291.8 636.0C295.6 634.2 297.3 632.3 299.0 630.0C300.7 627.7 301.0 624.7 302.0 622.0 L301.0 620.5C299.7 622.8 298.8 625.5 297.0 627.5C295.2 629.5 293.4 631.2 290.0 632.8C286.6 634.4 280.5 636.3 276.3 637.3C272.1 638.3 268.8 638.6 265.0 638.6C261.2 638.6 257.9 638.3 253.7 637.3C249.5 636.3 243.4 634.4 240.0 632.8C236.6 631.2 234.8 629.5 233.0 627.5C231.2 625.5 230.3 622.8 229.0 620.5 Z" fill="#fdfdfd" stroke="none"/>
<path class="kd" d="M227.4 622.0C228.6 624.7 229.2 627.7 231.0 630.0C232.8 632.3 234.4 634.2 238.2 636.0C242.0 637.8 249.2 639.8 253.7 640.8C258.2 641.8 261.2 642.0 265.0 642.0C268.8 642.0 271.8 641.8 276.3 640.8C280.8 639.8 288.0 637.8 291.8 636.0C295.6 634.2 297.3 632.3 299.0 630.0C300.7 627.7 301.0 624.7 302.0 622.0" />
<path class="k" d="M229.0 620.5C230.3 622.8 231.2 625.5 233.0 627.5C234.8 629.5 236.6 631.2 240.0 632.8C243.4 634.4 249.5 636.3 253.7 637.3C257.9 638.3 261.2 638.6 265.0 638.6C268.8 638.6 272.1 638.3 276.3 637.3C280.5 636.3 286.6 634.4 290.0 632.8C293.4 631.2 295.2 629.5 297.0 627.5C298.8 625.5 299.7 622.8 301.0 620.5" />
<path class="k" d="M257.3 639.5 L257.3 648.5 L273.3 648.5 L273.3 639.5" fill="#fdfdfd"/>
<ellipse class="kd" cx="265" cy="642.6" rx="2.7" ry="1.9"/><ellipse class="k" cx="265" cy="642.6" rx="1.2" ry="0.8"/>
<circle cx="259.3" cy="646.3" r="0.9" fill="#555"/><circle cx="271.3" cy="646.3" r="0.9" fill="#555"/>
</g>
<!-- ======= vertical dashed lines ======= -->
<path class="dd" d="M406.6 319 L 406.6 612 M 471.6 319 L 471.6 612"/>
<path class="dd" d="M439 444 L 439 462 M 439 502 L 439 553"/>
<!-- tube -->
<path d="M424.3 370 L 424.3 436 C 424.3 440, 430 442.6, 438.7 442.6 C 447.4 442.6, 453.1 440, 453.1 436 L 453.1 370 Z" fill="#fdfdfd"/>
<ellipse class="k" cx="438.7" cy="370.1" rx="14.4" ry="7.8" fill="#fdfdfd"/>
<path class="k" d="M424.3 370 L 424.3 436 C 424.3 440, 430 442.6, 438.7 442.6 C 447.4 442.6, 453.1 440, 453.1 436 L 453.1 370"/>
<path class="k" d="M452 372 L 452 436"/>
<path d="M424.3 427.0 C 425 431.0, 431 433.0, 438.7 433.0 C 446.4 433.0, 452.4 431.0, 453.1 427.0 M424.3 429.4 C 425 433.4, 431 435.4, 438.7 435.4 C 446.4 435.4, 452.4 433.4, 453.1 429.4 M424.3 431.8 C 425 435.8, 431 437.8, 438.7 437.8 C 446.4 437.8, 452.4 435.8, 453.1 431.8 M424.3 434.2 C 425 438.2, 431 440.2, 438.7 440.2 C 446.4 440.2, 452.4 438.2, 453.1 434.2 M424.3 436.6 C 425 440.6, 431 442.6, 438.7 442.6 C 446.4 442.6, 452.4 440.6, 453.1 436.6 M424.3 439.0 C 425 443.0, 431 445.0, 438.7 445.0 C 446.4 445.0, 452.4 443.0, 453.1 439.0" stroke="#aaa" stroke-width="0.6" fill="none"/>
<!-- adapter -->
<path d="M429 486 L 429 498 A 9.5 3.5 0 0 0 448 498 L 448 486 Z" fill="#fdfdfd" stroke="#555" stroke-width="0.9"/>
<path d="M429 489.5 A 9.5 3.2 0 0 0 448 489.5 M429 491.5 A 9.5 3.2 0 0 0 448 491.5 M429 493.5 A 9.5 3.2 0 0 0 448 493.5 M429 495.5 A 9.5 3.2 0 0 0 448 495.5 M429 497.5 A 9.5 3.2 0 0 0 448 497.5" stroke="#999" stroke-width="0.6" fill="none"/>
<path d="M422.1 471 L 422.1 480.4 A 16.95 9 0 0 0 456 480.4 L 456 471 Z" fill="#fdfdfd" stroke="#555" stroke-width="0.9"/>
<ellipse cx="439" cy="471" rx="16.95" ry="9" fill="#fdfdfd" stroke="#555" stroke-width="0.9"/>
<path d="M424.2 471.0 A 14.8 7.6 0 0 1 453.8 471.0 M425.1 471.3 A 13.9 6.8 0 0 1 452.9 471.3 M425.9 471.6 A 13.1 6.0 0 0 1 452.1 471.6 M426.8 471.9 A 12.2 5.2 0 0 1 451.2 471.9 M427.7 472.2 A 11.3 4.4 0 0 1 450.3 472.2" stroke="#888" stroke-width="0.6" fill="none"/>
<ellipse cx="439" cy="475.8" rx="10.2" ry="3.3" fill="#fff" stroke="#666" stroke-width="0.7"/>
<path d="M424.5 474 C 428 478.5, 434 480, 439 480 C 444 480, 450 478.5, 453.5 474" fill="none" stroke="#666" stroke-width="0.7"/>
<path class="dd" d="M439 463 L 439 476" stroke="#aaa"/>
<path class="ld" d="M373 451.9 L 428.7 483"/>

<!-- ======= coil 6 ======= -->
<ellipse cx="159.5" cy="372.05" rx="67.50" ry="9.45" fill="none" stroke="#8c8c8c" stroke-width="2.9"/>
<ellipse cx="159.5" cy="372.05" rx="67.50" ry="9.45" fill="none" stroke="#ececec" stroke-width="1.5"/>
<ellipse cx="159.5" cy="375.45" rx="67.10" ry="10.05" fill="none" stroke="#8c8c8c" stroke-width="2.9"/>
<ellipse cx="159.5" cy="375.45" rx="67.10" ry="10.05" fill="none" stroke="#ececec" stroke-width="1.5"/>
<ellipse cx="159.5" cy="378.85" rx="66.70" ry="10.65" fill="none" stroke="#8c8c8c" stroke-width="2.9"/>
<ellipse cx="159.5" cy="378.85" rx="66.70" ry="10.65" fill="none" stroke="#ececec" stroke-width="1.5"/>
<ellipse cx="159.5" cy="382.00" rx="66.30" ry="11.00" fill="none" stroke="#8c8c8c" stroke-width="2.9"/>
<ellipse cx="159.5" cy="382.00" rx="66.30" ry="11.00" fill="none" stroke="#ececec" stroke-width="1.5"/>
<path d="M92.2 382 C 91 388, 93.5 394, 99.9 397.1 C 105 399.5, 110 400.3, 116 400.8 C 125 401.8, 135 402.8, 150.6 403.9" fill="none" stroke="#8c8c8c" stroke-width="2.9" stroke-linecap="round"/>
<path d="M92.2 382 C 91 388, 93.5 394, 99.9 397.1 C 105 399.5, 110 400.3, 116 400.8 C 125 401.8, 135 402.8, 150.6 403.9" fill="none" stroke="#f4f4f4" stroke-width="1.5" stroke-linecap="round"/>
<path class="ld" d="M69.7 368.2 L 94 382"/>
<!-- ======= stake 5 ======= -->
<path d="M91.2 474.4 L 174.8 434.2 L 177.8 443.8 Z" fill="#fdfdfd" stroke="#555" stroke-width="0.85" stroke-linejoin="round"/>
<path d="M91.2 474.4 L 177.8 443.8 L 178.6 447.2 L 92.7 475.9 Z" fill="#ebebeb" stroke="#555" stroke-width="0.85" stroke-linejoin="round"/>
<path d="M120 465.5 L 178.2 445.5" fill="none" stroke="#777" stroke-width="0.6"/>
<ellipse cx="169.6" cy="440.2" rx="1.8" ry="1.3" fill="none" stroke="#555" stroke-width="0.8"/>
<path class="ld" d="M70.2 450.3 L 101.6 466.6"/>

<!-- ======= accessories 4 ======= -->
<path class="ld" d="M139.6 510 L 130 515.1 L 126 630.3 L 143 660.7"/>
<path class="ld" d="M72.2 552.8 L 126.5 583.6"/>
<!-- eye bolt -->
<path d="M136.1 525.1 L 165.2 518.1 L 166.2 521.1 L 136.6 527.3 Z" fill="#fdfdfd" stroke="#555" stroke-width="0.8" stroke-linejoin="round"/>
<path d="M139.2 524.4 L 139.6 526.6 M 141.6 523.8 L 142 526.1 M 144 523.3 L 144.4 525.6 M 146.4 522.7 L 146.8 525.1 M 148.8 522.1 L 149.2 524.6" stroke="#555" stroke-width="0.8"/>
<ellipse cx="173.5" cy="516.1" rx="9.2" ry="6.2" fill="none" stroke="#555" stroke-width="0.9" transform="rotate(-12 173.5 516.1)"/>
<ellipse cx="173.9" cy="516" rx="6.6" ry="3.7" fill="none" stroke="#555" stroke-width="0.8" transform="rotate(-12 173.9 516)"/>
<!-- wall plug -->
<path d="M136.1 557.3 L 155.2 550.3 L 157.2 561.3 L 138.1 564.4 C 136 563, 135.5 559, 136.1 557.3 Z" fill="#fdfdfd" stroke="#555" stroke-width="0.8"/>
<path d="M138.3 556.5 C 137.5 559, 138 562, 139 564 M 142 555.2 C 141 558, 141.5 561, 142.5 563.5 M 145.7 553.8 C 144.8 557, 145.3 560, 146.3 563 M 149.4 552.4 C 148.5 555.5, 149 559, 150 562.2" fill="none" stroke="#555" stroke-width="0.9"/>
<path d="M152.2 549.8 L 155.5 548.5 L 158.2 550.5 L 158.2 561.5 L 155.5 562.5 L 152.5 561.5 Z" fill="#f4f4f4" stroke="#555" stroke-width="0.8"/>
<path d="M158.2 550.3 L 169.3 548.3 L 171.3 557.3 L 160.2 560.3 Z" fill="#fdfdfd" stroke="#555" stroke-width="0.8"/>
<ellipse cx="170.4" cy="552.8" rx="1.6" ry="4.6" fill="#f4f4f4" stroke="#555" stroke-width="0.8" transform="rotate(-12 170.4 552.8)"/>
<!-- snap hook -->
<path d="M150 589.5 L 173 589.3 C 180 589, 184 591, 183 594.5 C 182 597.5, 178 598.5, 175 599.5 L 155 609 C 146 612, 137 609.5, 135.8 602 C 135 595, 141 590, 150 589.5 Z" fill="none" stroke="#555" stroke-width="2.5" stroke-linejoin="round"/>
<path d="M150 589.5 L 173 589.3 C 180 589, 184 591, 183 594.5 C 182 597.5, 178 598.5, 175 599.5 L 155 609 C 146 612, 137 609.5, 135.8 602 C 135 595, 141 590, 150 589.5 Z" fill="none" stroke="#fdfdfd" stroke-width="1" stroke-linejoin="round"/>
<!-- clip -->
<path d="M137.6 627 L 141 628.5 L 142.5 625 C 143.5 622.5, 148 621.8, 150 624 L 151.5 628 L 157.2 626.3 L 156.2 638.4 L 147.1 640.9 L 139.1 639.4 Z" fill="#fdfdfd" stroke="#555" stroke-width="0.8" stroke-linejoin="round"/>
<path d="M144 628 C 144 625, 147.5 624.5, 148.5 627 M 146.1 630.3 L 147.1 640.9 M 141 628.5 L 143 631 L 146.1 630.3 L 151.5 628" fill="none" stroke="#555" stroke-width="0.8"/>
<!-- ======= control box (left) ======= -->
<path d="M336 695.7 L 363.2 677 L 380.3 688.1 L 380.8 708.2 L 351.1 722.3 L 336 712.3 Z" fill="#fdfdfd" stroke="#444" stroke-width="0.9" stroke-linejoin="round"/>
<path d="M336 695.7 L 350.1 703.2 L 380.3 688.1 M 350.1 703.2 L 351.1 722.3" fill="none" stroke="#444" stroke-width="0.9"/>
<path d="M337 695 L 337 688.1 C 342 684, 348 681, 353 678.5 C 355 678, 356 679.5, 355 681 L 352 683" fill="#fdfdfd" stroke="#555" stroke-width="0.8"/>
<ellipse cx="353.6" cy="679.6" rx="1.2" ry="0.9" fill="none" stroke="#555" stroke-width="0.6"/>
<path d="M339 688.5 L 339.5 693" stroke="#666" stroke-width="0.6"/>
<path d="M352 705 L 362.2 699.2 L 366.2 704.2 L 367 718 M 362.2 699.2 L 378.5 691" fill="none" stroke="#666" stroke-width="0.7"/>
<path d="M367.2 704 L 378.8 698.5 L 379.3 711.5 L 368 717.3 Z" fill="#d8d8d8" stroke="#444" stroke-width="0.8"/>
<path d="M369.5 705.5 L 373 704 L 373.3 708.5 L 369.8 710 Z M 373.8 703.6 L 377.3 702 L 377.6 706.5 L 374.1 708.1 Z M 369.9 711 L 377.5 707.5 L 377.7 710.5 L 370.1 714 Z" fill="#999" stroke="#444" stroke-width="0.6"/>
<circle cx="359.7" cy="712.8" r="1.6" fill="none" stroke="#555" stroke-width="0.8"/>
<circle cx="353" cy="705.5" r="0.8" fill="none" stroke="#555" stroke-width="0.6"/>
<circle cx="353" cy="719.5" r="0.8" fill="none" stroke="#555" stroke-width="0.6"/>
<!-- connector -->
<path d="M337 708.5 L 343 705.8 C 345.5 706, 346.5 709, 345.6 711.5 L 340 714.8 C 338 715, 336.5 712, 337 708.5 Z" fill="#cfcfcf" stroke="#444" stroke-width="0.8"/>
<path d="M339 707.6 L 341.5 713.6 M 341 706.8 L 343.5 712.8" stroke="#555" stroke-width="0.6"/>
<!-- cable left box to pump -->
<path d="M336.5 711 C 332 709, 326 708.5, 314.4 709.4 M 307.9 710 L 283.7 709" fill="none" stroke="#555" stroke-width="2.4" stroke-linecap="round"/>
<path d="M336.5 711 C 332 709, 326 708.5, 314.4 709.4 M 307.9 710 L 283.7 709" fill="none" stroke="#fdfdfd" stroke-width="1" stroke-linecap="round"/>
<!-- cable box to plug -->
<path d="M380.3 693.1 C 386 693.5, 390.4 696.2, 392.5 701 C 394.5 707, 392.4 714.3, 385 715 C 380 716.5, 375 721, 369 726.5 C 363.7 730.3, 358 735, 356.5 740 C 355.5 744.5, 358 747.4, 366.3 748.2" fill="none" stroke="#555" stroke-width="2.6" stroke-linecap="round"/>
<path d="M380.3 693.1 C 386 693.5, 390.4 696.2, 392.5 701 C 394.5 707, 392.4 714.3, 385 715 C 380 716.5, 375 721, 369 726.5 C 363.7 730.3, 358 735, 356.5 740 C 355.5 744.5, 358 747.4, 366.3 748.2" fill="none" stroke="#fdfdfd" stroke-width="1.1" stroke-linecap="round"/>
<path d="M366.3 744.4 L 383.3 746.3 L 382.5 756.7 L 366.3 751.6 C 365 750, 365 746, 366.3 744.4 Z" fill="#fdfdfd" stroke="#444" stroke-width="0.9"/>
<path d="M383.3 746.3 C 388 746.5, 390.5 748.5, 390.5 752 C 390.5 756, 388 757.6, 382.5 756.7 Z" fill="#fdfdfd" stroke="#444" stroke-width="0.9"/>
<path d="M386.5 748 C 388.5 749, 389 754, 386.5 756" fill="none" stroke="#555" stroke-width="0.8"/>
<path d="M375.7 749 L 378.2 749.3" stroke="#333" stroke-width="1.1"/>
<!-- labels 2, 7 -->
<path class="ld" d="M345 665.8 L 295.8 693.7 M 355.2 663 L 403.6 689.7"/>
<path class="ld" d="M292 746.6 L 346 715"/>

<!-- ======= right washer, nut, 4x ======= -->
<path class="dda" d="M477 624.6 L 492 640.6"/>
<ellipse cx="493.5" cy="645" rx="7.6" ry="4.6" fill="#fdfdfd" stroke="#555" stroke-width="1.1"/>
<ellipse cx="493.5" cy="645" rx="2.3" ry="1.4" fill="#999" stroke="#555" stroke-width="0.7"/>
<path d="M492.3 649.6 L 492.3 655.5 M 494.7 649.6 L 494.7 655.5" stroke="#777" stroke-width="0.7"/>
<path d="M487.2 657.5 L 490.5 655 L 497 655 L 500 657.5 L 500 662 L 497 664.7 L 490.5 664.7 L 487.2 662 Z" fill="#fdfdfd" stroke="#555" stroke-width="0.9" stroke-linejoin="round"/>
<path d="M487.5 658 C 490 660, 497 660, 499.7 658 M 490.5 659.5 L 490.5 664.5 M 497 659.5 L 497 664.5" fill="none" stroke="#666" stroke-width="0.6"/>
<ellipse cx="493.6" cy="656.5" rx="2.2" ry="1" fill="none" stroke="#777" stroke-width="0.6"/>
<!-- ======= transformer (right) ======= -->
<defs>
<pattern id="hatch" patternUnits="userSpaceOnUse" width="2" height="2" patternTransform="rotate(45)">
<rect width="2" height="2" fill="#e8e8e8"/><line x1="0" y1="0" x2="0" y2="2" stroke="#9c9c9c" stroke-width="0.8"/>
</pattern>
</defs>
<path d="M513.3 671.5 C 512 666, 513.5 662, 519 660.8 C 525 659.6, 531 659.6, 536.5 660.8" fill="none" stroke="#555" stroke-width="2.7"/>
<path d="M513.3 671.5 C 512 666, 513.5 662, 519 660.8 C 525 659.6, 531 659.6, 536.5 660.8" fill="none" stroke="#fdfdfd" stroke-width="1.2"/>
<path d="M517.2 670.9 L 536 661.5 L 563.2 675.1 L 543.6 687 Z" fill="url(#hatch)" stroke="#555" stroke-width="0.9" stroke-linejoin="round"/>
<path d="M517.2 670.9 L 543.6 687 L 543.6 710 L 516.4 694.7 Z" fill="url(#hatch)" stroke="#555" stroke-width="0.9" stroke-linejoin="round"/>
<path d="M543.6 687 L 563.2 675.1 L 564.1 699 L 543.6 710 Z" fill="#fdfdfd" stroke="#555" stroke-width="0.9" stroke-linejoin="round"/>
<path d="M520.6 677.7 L 526.6 680.5 L 526.6 689.6 L 520.6 686.8 Z" fill="#fdfdfd" stroke="#555" stroke-width="0.8"/>
<path d="M546 667 C 550 666, 553 663, 555.5 658 C 557 654.5, 558.5 652.5, 561 651.5" fill="none" stroke="#555" stroke-width="2.6"/>
<path d="M546 667 C 550 666, 553 663, 555.5 658 C 557 654.5, 558.5 652.5, 561 651.5" fill="none" stroke="#fdfdfd" stroke-width="1.1"/>
<path d="M560 652.5 C 559 649, 561 645.5, 564.5 644.8 C 567.5 644.3, 570 645.5, 570.5 648 L 567 651.5 C 565 653, 562 653.5, 560 652.5 Z" fill="#fdfdfd" stroke="#444" stroke-width="0.9"/>
<ellipse cx="565" cy="648.5" rx="2.6" ry="2.3" fill="none" stroke="#555" stroke-width="0.7"/>
<path d="M569.5 645.6 L 573 642.6 M 570.8 647.8 L 574.3 644.8" stroke="#444" stroke-width="1.1"/>
<!-- cable from right pump to transformer -->
<path d="M475.2 707 C 482 700, 488 690, 492 684 C 495 680, 498 679, 500.2 678.5 M 503 678.3 C 508 678, 512 679, 515.5 681.1" fill="none" stroke="#555" stroke-width="2.4" stroke-linecap="round"/>
<path d="M475.2 707 C 482 700, 488 690, 492 684 C 495 680, 498 679, 500.2 678.5 M 503 678.3 C 508 678, 512 679, 515.5 681.1" fill="none" stroke="#fdfdfd" stroke-width="1" stroke-linecap="round"/>
<path class="ld" d="M577 715 L 552.1 699.8"/>
<text x="276.45" y="149.6" textLength="14.44" lengthAdjust="spacingAndGlyphs" style="font-family:&quot;Liberation Sans&quot;,sans-serif;font-size:12.5px;fill:#3a3a3a;stroke:#3a3a3a;stroke-width:0.15px;">4&#215;</text>
<text x="60.48" y="369.9" textLength="7.98" lengthAdjust="spacingAndGlyphs" style="font-family:&quot;Liberation Sans&quot;,sans-serif;font-size:12.5px;fill:#3a3a3a;stroke:#3a3a3a;stroke-width:0.15px;">6</text>
<text x="60.86" y="451.3" textLength="7.57" lengthAdjust="spacingAndGlyphs" style="font-family:&quot;Liberation Sans&quot;,sans-serif;font-size:12.5px;fill:#3a3a3a;stroke:#3a3a3a;stroke-width:0.15px;">5</text>
<text x="63.56" y="553.7" textLength="6.54" lengthAdjust="spacingAndGlyphs" style="font-family:&quot;Liberation Sans&quot;,sans-serif;font-size:12.5px;fill:#3a3a3a;stroke:#3a3a3a;stroke-width:0.15px;">4</text>
<text x="364.06" y="453.5" textLength="7.57" lengthAdjust="spacingAndGlyphs" style="font-family:&quot;Liberation Sans&quot;,sans-serif;font-size:12.5px;fill:#3a3a3a;stroke:#3a3a3a;stroke-width:0.15px;">3</text>
<text x="346.65" y="664.7" textLength="7.26" lengthAdjust="spacingAndGlyphs" style="font-family:&quot;Liberation Sans&quot;,sans-serif;font-size:12.5px;fill:#3a3a3a;stroke:#3a3a3a;stroke-width:0.15px;">2</text>
<text x="283.37" y="753.9" textLength="7.01" lengthAdjust="spacingAndGlyphs" style="font-family:&quot;Liberation Sans&quot;,sans-serif;font-size:12.5px;fill:#3a3a3a;stroke:#3a3a3a;stroke-width:0.15px;">7</text>
<text x="578.45" y="722.8" textLength="7.26" lengthAdjust="spacingAndGlyphs" style="font-family:&quot;Liberation Sans&quot;,sans-serif;font-size:12.5px;fill:#3a3a3a;stroke:#3a3a3a;stroke-width:0.15px;">7</text>
<text x="504.56" y="644.7" textLength="13.68" lengthAdjust="spacingAndGlyphs" style="font-family:&quot;Liberation Sans&quot;,sans-serif;font-size:12.5px;fill:#3a3a3a;stroke:#3a3a3a;stroke-width:0.15px;">4&#215;</text><path d="M595.17 129.10 L595.17 120.50 L592.57 122.41" fill="none" stroke="#3a3a3a" stroke-width="1.45" stroke-linejoin="miter" stroke-linecap="butt"/></svg>
</body></html>
